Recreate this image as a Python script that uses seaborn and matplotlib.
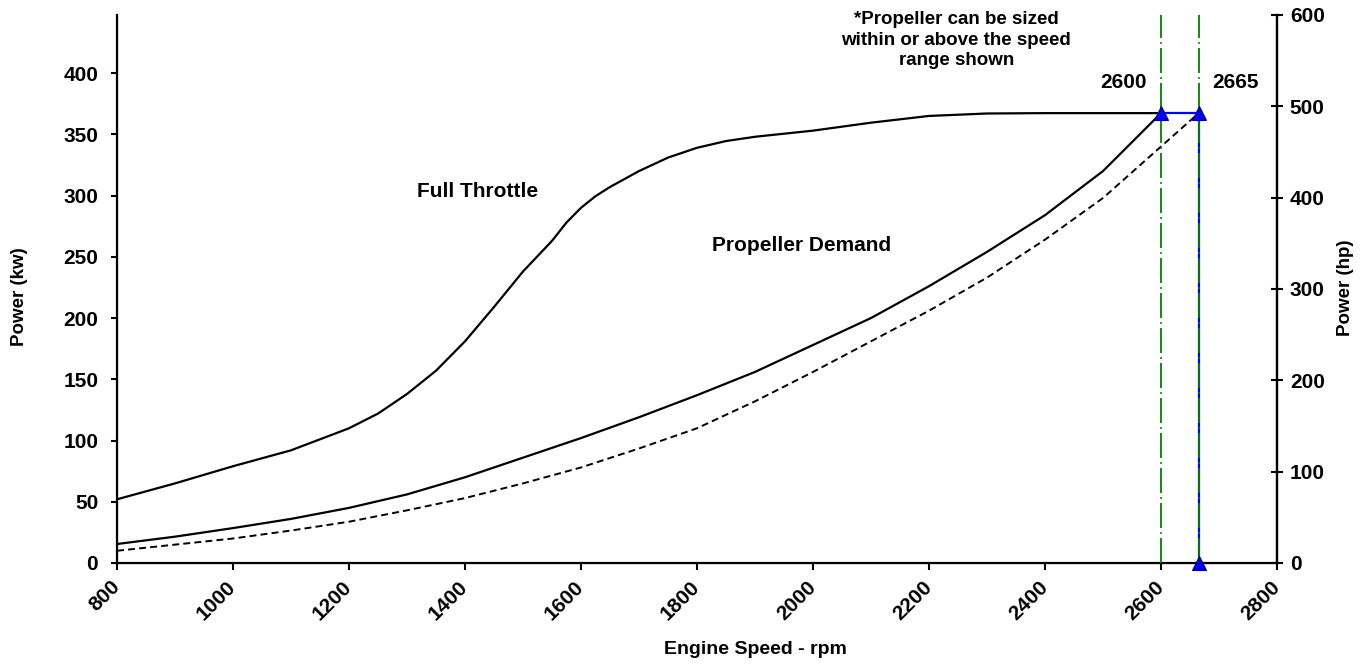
import pandas as pd
import matplotlib.pyplot as plt
import seaborn as sns

sns.set_style("ticks", rc={'text.color': 'black', 'axes.labelcolor': 'black',
                           'xtick.color': 'black', 'ytick.color': 'black',
                           'axes.edgecolor': 'black'})
plt.rcParams['font.family'] = ['Liberation Sans', 'DejaVu Sans']
plt.rcParams['font.weight'] = 'bold'
plt.rcParams['lines.scale_dashes'] = False

# Full throttle power curve (kW)
rpm_full = [800, 900, 1000, 1100, 1200, 1250, 1300, 1350, 1400, 1450, 1500, 1550, 1575,
            1600, 1625, 1650, 1700, 1750, 1800, 1850, 1900, 2000, 2100, 2200, 2300, 2400,
            2500, 2600]
kw_full = [52, 65, 79, 92, 110, 122, 138, 157, 181, 209, 238, 263, 278,
           290, 299.5, 307, 320, 331, 339, 344.5, 348, 353, 359.5, 365, 367, 367.3,
           367.3, 367.3]

# Propeller demand curve (kW), solid
rpm_prop = [800, 900, 1000, 1100, 1200, 1300, 1400, 1500, 1600, 1700, 1800,
            1900, 2000, 2100, 2200, 2300, 2400, 2500, 2600]
kw_prop = [15.5, 21.5, 28.5, 36, 45, 56, 70, 86, 102, 119, 137,
           156, 178, 200, 226, 254, 284, 320, 367.3]

# Propeller demand curve (kW), dashed, ending at 2665 rpm
rpm_prop2 = [800, 900, 1000, 1100, 1200, 1300, 1400, 1500, 1600, 1700, 1800,
             1900, 2000, 2100, 2200, 2300, 2400, 2500, 2600, 2665]
kw_prop2 = [10, 15, 20, 26.5, 33.7, 43, 53, 65, 78, 93.5, 110,
            132, 156, 181, 206, 233, 264, 298, 340, 367.3]

# rated points
rpm_rated = [2600, 2665]
kw_rated = 367.3

HP_TO_KW = 0.7457
hp_max = 600

df_full = pd.DataFrame({'rpm': rpm_full, 'kw': kw_full})
df_prop = pd.DataFrame({'rpm': rpm_prop, 'kw': kw_prop})
df_prop2 = pd.DataFrame({'rpm': rpm_prop2, 'kw': kw_prop2})

fig = plt.figure(figsize=(13.64, 6.65), dpi=100)
ax = fig.add_axes([117 / 1364, 1 - 563 / 665, (1277 - 117) / 1364, (563 - 15) / 665])

sns.lineplot(data=df_full, x='rpm', y='kw', color='black', linewidth=1.6, ax=ax)
sns.lineplot(data=df_prop, x='rpm', y='kw', color='black', linewidth=1.6, ax=ax)
sns.lineplot(data=df_prop2, x='rpm', y='kw', color='black', linewidth=1.4,
             linestyle=(0, (5, 3)), ax=ax)

# blue rated-speed lines
ax.plot(rpm_rated, [kw_rated, kw_rated], color='#0000FF', linewidth=1.6, zorder=3)
ax.plot([rpm_rated[1], rpm_rated[1]], [0, kw_rated], color='#0000FF', linewidth=1.6, zorder=3)

# green speed range markers
for r in rpm_rated:
    ax.axvline(r, color='#008000', linewidth=1.3, linestyle=(0, (18, 3, 1.2, 3)), zorder=4)

ax.plot(rpm_rated + [rpm_rated[1]], [kw_rated, kw_rated, 0], linestyle='none', marker='^',
        markersize=10, color='#0000FF', markeredgecolor='#000080', markeredgewidth=0.8,
        zorder=6, clip_on=False)

ax.set_xlim(800, 2800)
ax.set_ylim(0, hp_max * HP_TO_KW)
ax.set_xticks(range(800, 2801, 200))
ax.set_yticks(range(0, 401, 50))
ax.set_xlabel("")
ax.set_ylabel("")
ax.tick_params(axis='y', direction='out', length=4.5, width=1.5, labelsize=15, pad=9)
ax.tick_params(axis='x', direction='out', length=5, width=1.5, labelsize=15, pad=10)
for lbl in ax.get_xticklabels():
    lbl.set_rotation(45)
    lbl.set_ha('right')
    lbl.set_va('center')
    lbl.set_rotation_mode('anchor')
    lbl.set_fontweight('bold')
for lbl in ax.get_yticklabels():
    lbl.set_fontweight('bold')

ax.spines['top'].set_visible(False)
for s in ['left', 'bottom', 'right']:
    ax.spines[s].set_linewidth(1.6)

ax2 = ax.twinx()
ax2.set_ylim(0, hp_max)
ax2.set_yticks(range(0, 601, 100))
ax2.tick_params(axis='y', direction='inout', length=8.5, width=1.5, labelsize=15, pad=5)
for lbl in ax2.get_yticklabels():
    lbl.set_fontweight('bold')
ax2.spines['top'].set_visible(False)
ax2.spines['right'].set_linewidth(1.6)

# axis titles
fig.text(20 / 1364, 1 - 297 / 665, "Power (kw)", fontsize=13.5, fontweight='bold',
         rotation=90, ha='center', va='center')
fig.text(1346 / 1364, 1 - 288 / 665, "Power (hp)", fontsize=13.5, fontweight='bold',
         rotation=90, ha='center', va='center')
fig.text(755 / 1364, 1 - 650 / 665, "Engine Speed - rpm", fontsize=14, fontweight='bold',
         ha='center', va='center')

ax.text(1421, 303, "Full Throttle", fontsize=15, fontweight='bold', ha='center', va='center')
ax.text(1981, 259.6, "Propeller Demand", fontsize=15, fontweight='bold', ha='center', va='center')
ax.text(2535, 392.7, "2600", fontsize=15, fontweight='bold', ha='center', va='center')
ax.text(2728, 392.7, "2665", fontsize=15, fontweight='bold', ha='center', va='center')
ax.text(2247, 427, "*Propeller can be sized\nwithin or above the speed\nrange shown",
        fontsize=13.5, fontweight='bold', ha='center', va='center', linespacing=1.25)

fig.savefig("out.png", dpi=100)
